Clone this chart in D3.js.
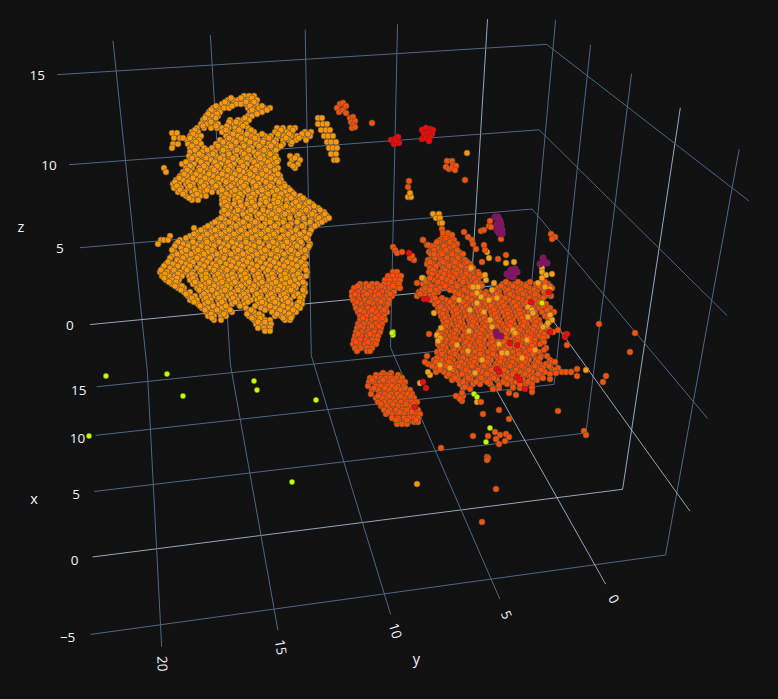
<!DOCTYPE html>
<html><head><meta charset="utf-8">
<script src="https://cdnjs.cloudflare.com/ajax/libs/d3/7.8.5/d3.min.js"></script>
<style>html,body{margin:0;padding:0;background:#111111;overflow:hidden}svg{display:block}</style>
</head><body><div id="chart"></div>
<script>
const xTicks=[-5,0,5,10,15], yTicks=[0,5,10,15,20], zTicks=[0,5,10,15];
const xRange=[-6.3,16], yRange=[-3.5,23.0], zRange=[-3.7,16.6];
// reference readings: [x,y,z, view u, view v] used to fit the camera
const cameraReadings=[
[16,20,0,142,319],[16,20,5,134,242],[16,20,10,126,159],[16,20,15,116,70],
[16,10,15,305,59],[16,10,0,310,303],[16,0,0,470,288],[16,0,15,483,50],
[-5,20,-3.7,162,625],[0,20,-3.7,157,549],[5,20,-3.7,154,485],[10,20,-3.7,151,430],[15,20,-3.7,148,382],
[-5,15,-3.7,275,608],[0,15,-3.7,262,536],[5,15,-3.7,250,474],[10,15,-3.7,240,420],[15,15,-3.7,231,373],
[-5,10,-3.7,383,594],[0,10,-3.7,362,523],[-5,5,-3.7,490,579],[0,5,-3.7,459,511],[-5,0,-3.7,592,565],[0,0,-3.7,554,498],
[0,-3.5,-3.7,625,489],[-5,-3.5,-3.7,668,554],[15,-3.5,-3.7,527,339],
[0,-3.5,16.6,681,107],[-5,-3.5,16.6,740,148],[15,-3.5,16.6,556,21],
[16,-3.5,15,548,46],[16,-3.5,0,528,283]];

// Scatter readings in the view plane: rows of [v,[u,u,...]]
const orangeRows=[
[96,[244,249,254]],[100,[228,233,238,243,248,257]],[104,[222,227,236,241,246,251,256]],[108,[213,218,224,229,248,253,259,264,270]],
[112,[209,214,220,250,255,262]],[116,[206,212,218,248,252]],[120,[203,209,214,238,243,249,230]],[124,[201,207,213,218,234,240,246]],
[128,[197,204,211,217,222,229,235,241,248,277,283,290,295]],[132,[192,198,222,228,235,241,248,254,275,281,287,292,305,311]],
[136,[190,196,201,226,232,238,245,251,258,265,271,278,284,291,297,303,310]],[140,[187,193,199,220,227,233,240,246,252,258,264,270,276,283,289,296,306]],
[144,[188,195,201,216,223,229,236,243,249,256,262,269,276,283,291]],[148,[190,197,204,212,219,226,232,239,246,252,259,266,272,278]],
[152,[190,196,202,208,215,222,228,235,241,247,254,261,267,274]],[156,[189,195,202,209,216,223,229,236,243,249,256,263,269,276,290,297]],
[160,[190,198,204,211,217,224,231,238,244,251,258,264,271,278,292,300]],[164,[188,194,201,207,214,221,227,234,241,247,254,261,267,274,182,290,298]],
[168,[186,192,199,206,212,219,226,232,239,245,252,259,265,272,278,295,164]],[172,[183,190,197,203,210,216,223,230,236,243,249,256,262,269,276,166]],
[176,[180,187,193,200,207,213,220,227,233,240,247,253,260,266,273,280]],[180,[176,183,190,196,203,209,216,223,229,236,242,249,256,262,269,276,281]],
[184,[173,179,186,193,200,206,213,219,226,233,239,246,253,259,266,272,279,284]],[188,[174,181,188,194,201,208,214,221,228,234,241,247,254,261,267,274,281,288]],
[192,[178,185,192,199,205,212,219,225,232,238,245,252,258,265,272,278,285,292]],[196,[186,193,200,206,222,229,235,242,249,255,262,268,275,282,288,295,300]],
[200,[192,198,222,228,235,241,248,254,261,268,274,281,287,294,300,305]],[204,[228,222,234,241,247,254,260,267,274,280,287,293,300,306,312]],
[208,[224,230,237,243,250,256,263,270,276,283,289,296,303,309,318]],[212,[222,229,235,242,248,255,262,268,275,281,288,295,301,308,314,321,324]],
[216,[224,231,237,244,250,257,264,270,277,283,290,297,303,310,316,323,327]],[220,[218,225,232,238,245,251,258,265,271,278,284,291,298,304,311,317,325]],
[224,[212,219,225,232,239,245,252,258,265,272,278,285,291,298,305,311,318]],[228,[194,205,211,218,224,231,237,244,251,257,264,271,277,284,290,297,304,312]],
[232,[198,205,211,218,225,231,238,244,251,258,264,271,277,284,291,297,304,310]],[236,[170,190,197,203,210,216,223,229,236,243,249,256,263,269,276,283,289,296,302,308]],
[240,[161,164,168,180,186,193,200,206,213,219,226,233,239,246,253,259,266,272,279,286,292,299,308]],[244,[158,176,183,189,196,203,209,216,223,229,236,242,249,256,262,269,276,282,289,295,302,310]],
[248,[174,181,188,194,201,207,214,221,227,234,241,247,254,260,267,274,280,287,293,300,308]],[252,[175,182,188,195,202,208,215,222,228,235,241,248,255,261,268,274,281,288,294,301,306]],
[256,[172,179,186,192,199,205,212,219,225,232,239,245,252,258,265,272,278,285,292,298,306]],[260,[170,177,184,190,197,203,210,217,223,230,237,243,250,257,263,270,276,283,290,296,303]],
[264,[166,173,180,186,193,200,206,213,219,226,233,239,246,252,259,266,272,279,285,292,299,306]],[268,[163,170,177,184,190,197,203,210,217,223,230,236,243,250,256,263,269,276,283,289,296,303]],
[272,[160,167,173,180,186,193,200,206,213,220,226,233,240,246,253,259,266,273,279,286,292,299,307]],[276,[162,169,175,182,189,195,202,208,215,222,228,235,241,248,255,261,268,274,281,288,294,301,306]],
[280,[166,172,179,190,196,203,210,216,223,229,236,243,249,256,262,269,276,282,289,295,302]],[284,[172,178,193,199,206,213,219,226,232,239,246,252,259,265,272,279,285,292,298,305]],
[288,[178,184,197,204,210,217,223,230,237,243,250,256,263,270,276,283,289,296,304]],[292,[184,190,201,207,214,221,227,234,241,247,254,261,267,274,280,287,293,305]],
[296,[188,195,202,209,215,222,228,235,241,248,255,261,268,274,281,287,294,303]],[300,[190,197,204,211,218,224,231,237,244,251,257,264,270,277,283,290,302]],
[304,[198,205,212,219,225,232,239,245,258,265,272,278,285,291,297,302]],[308,[202,208,215,222,228,246,261,268,275,281,288,295,300]],
[312,[206,212,219,226,232,248,254,272,278,284,291,296]],[316,[208,214,221,226,249,256,262,275,281,287,292]],[320,[214,221,254,259,265,270,285,290]],
[324,[256,261,267,271]],[328,[258,264,270]],[331,[265,270]],
[133,[172,177]],[138,[174,180,183]],[144,[173,178]],[148,[172]],
[118,[318,322]],[124,[318,323,327]],[130,[321,326,330]],[136,[324,328,333]],[142,[327,331,336]],[148,[329,333,337]],[154,[331,336]],[160,[334,337]],
[197,[408,411]],[193,[410]],[214,[433,439]],[218,[436,440]],[223,[440,442]],[153,[467]],
[484,[417]]];
const orangeTopRows=[
[98,[231,241,252]],[102,[225,246,254]],[106,[216,232,250,262]],[110,[211,252,267]],[114,[208,217,257]],[118,[205,245,216]],[122,[211,236,229]],[126,[203,216,227,243]],
[130,[195,226,239,251,281,293]],[134,[193,233,247,262,278,289,302,308]],[138,[190,229,241,255,269,286,299]],[142,[196,223,236,250,263,274,292]],
[146,[192,218,231,244,259,271,281]],[150,[195,207,223,237,249,264,276]],[154,[199,213,229,244,258,270]],[158,[192,206,220,233,247,260,275,295]],
[162,[186,201,215,228,241,254,268,277]],[166,[190,204,217,230,243,257,270,293]],[170,[187,200,214,228,239,255,266,275]],[174,[184,196,209,222,235,250,262,278]],
[178,[179,193,205,218,232,245,258,271]],[182,[175,188,201,212,226,241,253,266,279]],[186,[177,190,204,216,231,244,256,270,285]],[190,[180,195,207,222,235,248,262,277,290]],
[194,[183,197,226,240,253,268,281,294]],[198,[189,224,238,251,265,279,291,303]],[202,[225,240,252,266,278,296,309]],[206,[227,241,255,270,286,299,314]],
[210,[224,238,251,263,279,293,306,320]],[214,[228,243,259,272,285,299,312,325]],[218,[221,235,247,262,276,290,304,319,329]],[222,[215,229,243,255,270,283,297,310,322]],
[226,[208,222,236,249,261,275,288,302,315]],[230,[201,215,229,241,255,268,282,296,311]],[234,[194,207,221,234,247,261,274,288,300,309]],[238,[186,200,212,227,240,252,266,280,293,306]],
[242,[178,193,207,219,232,246,259,273,287,301]],[246,[175,188,201,214,228,241,254,269,283,297,309]],[250,[172,186,198,212,225,238,251,265,277,291,305]],
[254,[177,191,204,217,231,243,257,271,284,298]],[258,[170,183,197,210,224,237,249,263,276,291,304]],[262,[168,181,193,207,220,233,247,260,274,287,301]],
[266,[164,178,190,204,216,231,243,257,270,284,297,305]],[270,[161,174,187,201,214,227,241,253,268,280,293,306]],[274,[165,178,192,206,218,232,245,258,272,285,298]],
[278,[164,177,193,206,220,233,246,259,273,286,300]],[282,[169,176,195,209,222,235,249,262,276,290,303]],[286,[175,182,201,214,227,241,254,267,280,294]],
[290,[181,199,212,225,238,252,265,278,291,303]],[294,[186,204,217,231,244,257,271,284,298]],[298,[192,206,219,233,246,260,273,286,300]],
[302,[194,208,222,235,248,262,275,288,299]],[306,[200,213,226,240,255,270,283,297]],[310,[205,217,230,251,265,280,293]],[314,[211,224,247,259,277,289]],[318,[212,252,260,283,291]],[322,[258,265]]];
const orangeExtras=[[485,275],[487,252],[489,258],[471,268],[473,287],[478,287],[486,280],[492,290],[489,300],[477,293],[497,298],[484,312],[477,303],[514,262],[506,263],[542,268],[542,272],[546,275],[552,274],[542,278],[538,283],[545,287],[550,289],[550,315],[552,320],[547,325],[528,307],[532,310],[533,313],[528,317],[423,278],[434,313],[441,328],[468,351],[482,360],[499,344],[469,331],[440,365],[450,368],[502,353],[507,353],[475,373],[543,327],[548,323],[513,330],[515,333],[492,327],[522,358],[535,350],[586,370],[430,375],[428,372],[420,383],[437,335],[440,338],[438,341],[422,278],[477,402],[494,283],[481,297],[459,300],[470,310],[490,320],[516,345],[457,345],[527,340]];
const coralRows=[
[236,[443,448]],[240,[440,445,449,454]],[244,[436,441,447,452,457]],[248,[431,437,443,450,455]],[252,[429,435,441,448,454,459]],
[256,[432,438,444,450,456,461]],[260,[428,434,441,447,453,459,465]],[264,[427,433,439,446,452,458,464,470]],[268,[430,436,443,449,455,461,467,473]],
[272,[429,435,441,448,454,460,466,472,478]],[276,[431,438,444,450,457,463,469,476,481]],[280,[428,434,441,447,453,460,466,472,478]],
[284,[423,429,437,443,449,456,462,469,475,481,503,509,515,521,527,536,542,548]],[288,[427,433,440,446,452,458,465,471,478,498,504,510,517,523,529,535,541,552]],
[292,[419,425,431,438,455,461,467,474,480,486,493,499,506,512,518,525,531,537,544]],[296,[417,424,430,456,462,469,475,481,488,494,500,507,513,519,526,532,538,545,551]],
[300,[431,437,446,452,458,465,471,478,484,490,497,503,509,516,522,528,535,541]],[304,[435,442,448,454,461,467,474,480,486,493,499,505,512,518,524,531,537,546]],
[308,[438,444,450,457,463,469,476,482,488,495,501,508,514,520,527,533,539,550]],[312,[440,446,453,459,465,472,478,484,491,497,503,510,516,523,529,535,542,548,554]],
[316,[441,447,454,460,466,473,479,485,492,498,505,511,517,524,530,536,545]],[320,[443,450,456,462,469,475,481,488,494,500,507,513,520,526,532,539,552]],
[324,[444,451,457,463,470,476,483,489,495,502,508,514,521,527,534,540]],[328,[442,448,455,461,467,474,480,486,493,499,505,512,518,525,531,537,546]],
[332,[439,446,452,458,465,471,477,484,490,497,503,509,516,522,528,535,541,553]],[336,[437,444,450,456,463,469,475,482,488,494,501,507,514,520,526,533,539,547]],
[340,[440,446,452,459,465,472,478,484,491,497,503,510,516,522,529,535,542]],[344,[438,445,451,457,464,470,476,483,489,496,502,508,515,521,527,534,540]],
[348,[440,446,453,459,465,472,478,484,491,497,503,510,516,523,529,535,546]],[352,[437,444,450,456,463,469,475,482,488,494,501,507,513,520,526,532,539]],
[356,[439,445,452,458,464,471,477,483,490,496,503,509,515,522,528,534,541,547]],[360,[434,441,447,453,460,466,472,479,485,491,498,504,510,517,523,529,536,550]],
[364,[428,433,438,445,451,457,464,470,476,483,489,496,502,508,515,521,527,534,540,546]],[368,[435,442,448,454,461,467,474,480,486,493,499,505,512,518,524,531,537,543,551,558]],
[372,[436,444,450,456,463,469,475,482,488,494,501,507,513,520,526,532,539,545,556,562,566,571]],[376,[447,453,459,466,472,478,485,491,497,504,510,516,523,529,535,541,577]],
[380,[452,458,465,471,478,484,490,497,504,511,517,523,530,537]],[384,[460,466,473,480,490,499,507,513,520,526,532]],[388,[463,470,493,499,513,520,532]],
[272,[393,397]],[276,[388,393,398,401]],[280,[385,390,395,400]],[284,[360,366,372,377,384,389,394,399]],[288,[354,360,366,372,378,384,390,396,400]],
[292,[352,358,364,370,376,382,388,394]],[296,[352,358,364,369,375,381,387,392]],[300,[353,359,365,371,377,383,389]],[304,[355,361,367,373,379,385,388]],
[308,[356,362,368,374,380,386]],[312,[358,364,370,376,382,387]],[316,[360,366,372,378,384]],[320,[360,366,372,378,385]],[324,[358,364,370,376,382]],
[328,[357,363,369,375,381]],[332,[356,362,368,374,380]],[336,[355,361,367,373,378]],[340,[354,360,366,372,377]],[344,[353,359,365,371,376]],[348,[355,361,367,372]],[351,[357,367,370]],
[373,[383,391]],[375,[376,381,387,390,398]],[378,[370,375,381,386,391,396,402]],[382,[369,374,380,385,390,395,400,405]],[386,[368,376,381,387,392,398,404]],[390,[372,378,384,389,395,401,406,410]],
[394,[371,380,385,391,397,403,408,412]],[398,[376,382,387,393,399,404,410,414]],[402,[378,384,390,395,401,407,412,417]],[406,[381,387,392,398,403,409,415]],[410,[384,390,396,402,407,413,418]],
[414,[386,392,398,404,410,416,420]],[418,[392,398,404,409,414,418]],[422,[399,405,408,414,418]],[424,[397,402,407]]];
const coralTopRows=[
[238,[446,451]],[242,[439,450]],[246,[434,444,454]],[250,[433,446,457]],[254,[431,442,452,463]],[258,[435,447,458]],[262,[430,443,455,467]],[266,[436,449,461,471]],
[270,[433,445,457,470]],[274,[432,444,456,466,479]],[278,[430,442,453,464,474]],[282,[426,438,451,463,476,506,518,530,545]],[286,[431,445,457,470,482,501,513,526,539,550]],
[290,[422,436,450,464,477,494,508,521,534,548]],[294,[420,434,459,472,485,497,510,523,535,549]],[298,[428,442,454,467,480,493,505,518,529,543]],
[302,[438,450,463,476,489,502,514,527,539]],[306,[441,453,466,479,491,504,516,530,543]],[310,[444,456,468,481,494,507,519,532,547]],[314,[443,457,470,482,495,508,520,533,551]],
[318,[445,459,471,484,497,509,522,535,548]],[322,[447,460,473,486,499,511,524,536,549]],[326,[446,458,472,485,497,510,523,535]],[330,[443,456,469,482,494,507,520,533,549]],
[334,[441,454,467,480,492,505,518,531,544]],[338,[442,455,468,480,493,506,518,530,543]],[342,[440,453,466,479,492,504,517,530,544]],[346,[443,456,469,481,494,507,520,532]],
[350,[441,454,467,480,493,505,518,530,544]],[354,[442,455,468,480,493,506,519,533]],[358,[437,450,463,475,488,501,513,526,540]],[362,[436,449,461,474,487,500,512,525,538,552]],
[366,[432,446,459,472,484,497,510,522,535,549]],[370,[440,453,466,478,491,504,516,529,541,555]],[374,[449,462,475,487,500,513,525,538,550]],[378,[455,468,481,494,507,519,533]],[382,[463,476,487,503,516,528]],
[286,[358,369,381,393]],[294,[355,367,379,390]],[302,[357,369,381]],[310,[360,372,384]],[318,[363,375,382]],[326,[360,372,379]],[334,[358,370]],[342,[356,368]],
[380,[372,383,393]],[388,[374,385,396,405]],[396,[378,389,401,411]],[404,[381,393,406,414]],[412,[388,400,412]],[420,[396,407,416]]];
const coralExtras=[[340,104],[343,103],[337,108],[346,106],[339,112],[343,110],[346,113],[350,118],[353,117],[351,122],[355,121],[353,125],[352,128],[355,127],[372,123],
[447,161],[452,161],[446,167],[449,169],[453,165],[456,166],[452,168],[455,170],[465,180],[409,181],[408,187],
[442,229],[443,233],[448,233],[452,235],[464,232],[468,237],[472,240],[473,244],[476,249],[484,245],[485,250],[482,262],[498,259],[506,255],[423,240],[427,245],[431,246],[437,242],[434,250],[434,254],[414,260],[410,258],[481,231],[484,230],[490,221],[489,226],[491,227],[501,239],[551,234],[555,237],[552,239],
[393,247],[395,250],[397,253],[402,252],[412,256],[423,240],[428,245],[417,283],[425,288],[430,290],[435,298],[440,307],[429,334],[427,356],[425,362],
[599,324],[635,333],[630,352],[606,376],[603,382],[577,369],[571,372],[555,362],[556,373],[550,379],[543,378],[532,392],[516,395],[509,393],[499,385],[493,389],[558,411],[584,431],[586,435],[499,410],[483,414],[509,419],[473,436],[488,436],[495,432],[496,439],[500,435],[506,434],[509,437],[505,441],[499,444],[441,448],[487,457],[488,458],[487,460],[496,489],[482,522],[481,402],[462,401],[459,397],[456,396],[463,396],[460,399],[513,387],[520,385],[470,389],[465,387],[462,393],[565,335],[558,330],[567,345]];
const redPoints=[[391,140],[395,139],[398,137],[394,144],[399,143],[396,141],[422,130],[426,128],[430,129],[433,130],[424,134],[428,133],[432,134],[422,139],[426,138],[430,137],[429,141],[409,253],[510,343],[517,345],[497,369],[499,372],[517,377],[520,380],[525,389],[423,382],[426,388],[550,332],[565,337],[567,334],[531,302],[549,292],[424,299],[427,299],[415,407]];
const magentaPoints=[[495,217],[498,217],[500,221],[497,224],[501,225],[499,228],[497,230],[502,230],[499,233],[502,234],[507,274],[511,270],[515,269],[517,272],[513,274],[509,276],[513,277],[543,258],[540,264],[544,262],[547,263],[496,332],[497,336],[501,336]];
const limePoints=[[542,303],[474,394],[477,397],[490,428],[486,442],[393,332],[393,335],[392,333],[106,376],[167,374],[183,396],[254,381],[257,390],[316,400],[89,436],[292,482]];

const width=778,height=699;
const background="#111111",gridColor="#506784",zeroColor="#a9b6c6",textColor="#f2f5fa";
const viewU=d3.scaleLinear().domain([0,778]).range([0,width]);
const viewV=d3.scaleLinear().domain([0,699]).range([0,height]);
const unit=d3.scaleLinear().domain([0,20]).range([0,1]);

function solve(A,b){const n=b.length;const M=A.map((r,i)=>[...r,b[i]]);
 for(let c=0;c<n;c++){let p=c;for(let r=c+1;r<n;r++)if(Math.abs(M[r][c])>Math.abs(M[p][c]))p=r;[M[c],M[p]]=[M[p],M[c]];
  for(let r=0;r<n;r++)if(r!==c){const f=M[r][c]/M[c][c];for(let k=c;k<=n;k++)M[r][k]-=f*M[c][k];}}
 return M.map((r,i)=>r[n]/r[i]);}
function fitCamera(rows){const n=11;const A=d3.range(n).map(()=>new Array(n).fill(0)),b=new Array(n).fill(0);
 const add=(row,t)=>{for(let i=0;i<n;i++){b[i]+=row[i]*t;for(let j=0;j<n;j++)A[i][j]+=row[i]*row[j];}};
 rows.forEach(([x,y,z,u,v])=>{const X=unit(x),Y=unit(y),Z=unit(z),U=u/500,V=v/500;
  add([X,Y,Z,1,0,0,0,0,-U*X,-U*Y,-U*Z],U);add([0,0,0,0,X,Y,Z,1,-V*X,-V*Y,-V*Z],V);});
 return solve(A,b);}
const h=fitCamera(cameraReadings);
function project(x,y,z){const X=unit(x),Y=unit(y),Z=unit(z),w=h[8]*X+h[9]*Y+h[10]*Z+1;
 return [500*(h[0]*X+h[1]*Y+h[2]*Z+h[3])/w,500*(h[4]*X+h[5]*Y+h[6]*Z+h[7])/w];}

const svg=d3.select("#chart").append("svg").attr("width",width).attr("height",height).style("background",background);
const [x0,x1]=xRange,[y0,y1]=yRange,[z0,z1]=zRange;
const line=d3.line();
const grid=svg.append("g").attr("fill","none");
const drawGrid=(ticks,path)=>grid.selectAll(null).data(ticks).join("path")
 .attr("d",t=>line(path(t).map(p=>project(...p))))
 .attr("stroke",t=>t===0?zeroColor:gridColor).attr("stroke-width",t=>t===0?0.9:1);
drawGrid(xTicks,t=>[[t,y1,z0],[t,y0,z0],[t,y0,z1]]);
drawGrid(yTicks,t=>[[x0,t,z0],[x1,t,z0],[x1,t,z1]]);
drawGrid(zTicks,t=>[[x1,y1,t],[x1,y0,t],[x0,y0,t]]);

const flat=rows=>rows.flatMap(([v,us])=>us.map(u=>[u,v]));
const drawPoints=(pts,fill,r,stroke,sw)=>svg.append("g").selectAll("circle").data(pts).join("circle")
 .attr("cx",d=>viewU(d[0])).attr("cy",d=>viewV(d[1])).attr("r",r).attr("fill",fill).attr("stroke",stroke).attr("stroke-width",sw);
const orangeFill="#ff9800",orangeEdge="#6b5c48",coralFill="#ff5000",coralEdge="#6e5040";
drawPoints(flat(orangeRows),orangeFill,3,orangeEdge,0.7);
drawPoints(flat(orangeTopRows),orangeFill,3,orangeEdge,0.7);
drawPoints(flat(coralRows),coralFill,3,coralEdge,0.7);
drawPoints(flat(coralTopRows),coralFill,3,coralEdge,0.7);
drawPoints(orangeExtras,"#ffa010",2.9,"#7a6a48",0.6);
drawPoints(coralExtras,coralFill,3,coralEdge,0.7);
drawPoints(redPoints,"#f00a0a",3,"#7a2a2a",0.6);
drawPoints(magentaPoints,"#8a0f62",3.2,"#6a2a58",0.8);
drawPoints(limePoints,"#c4ff00",2.7,"#55661a",0.4);

const text=svg.append("g").attr("fill",textColor).attr("font-family","'Open Sans',sans-serif").attr("font-size",13.5).attr("text-anchor","middle");
const fmt=t=>String(t).replace("-","\u2212");
text.selectAll(null).data(zTicks).join("text").text(fmt)
 .attr("transform",t=>{const p=project(x1,y1,t);return `translate(${p[0]-20},${p[1]+5})`;});
text.selectAll(null).data(xTicks).join("text").text(fmt)
 .attr("transform",t=>{const p=project(t,y1,z0);return `translate(${p[0]-(t<0?23:18)},${p[1]+8})`;});
text.selectAll(null).data(yTicks).join("text").text(fmt)
 .attr("transform",t=>{const a=project(x1,t,z0),b=project(x0,t,z0);const ang=Math.atan2(b[1]-a[1],b[0]-a[0]);
  return `translate(${b[0]+17*Math.cos(ang)},${b[1]+17*Math.sin(ang)}) rotate(${ang*180/Math.PI}) translate(0,5)`;});
const axisTitles=[["x",5,y1+3,z0],["y",x0-2.7,9.5,z0],["z",x1,y1+3,6.55]];
text.selectAll(null).data(axisTitles).join("text").text(d=>d[0]).attr("font-size",14.5)
 .attr("transform",d=>{const p=project(d[1],d[2],d[3]);return `translate(${p[0]},${p[1]+5})`;});
</script></body></html>
